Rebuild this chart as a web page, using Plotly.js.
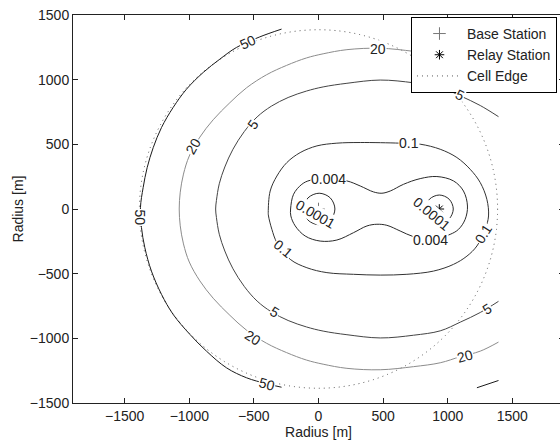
<!DOCTYPE html>
<html>
<head>
<meta charset="utf-8">
<script src="https://cdn.plot.ly/plotly-3.0.1.min.js"></script>
<style>
html, body { margin:0; padding:0; overflow:hidden; background:#fff; }
#chart { width:566px; height:442px; }
</style>
</head>
<body>
<div id="chart"></div>
<script>
// ---- data (metres) ----
const xTicks = [-1500, -1000, -500, 0, 500, 1000, 1500];
const yTicks = [-1500, -1000, -500, 0, 500, 1000, 1500];

const baseX = [0];
const baseY = [0];
const relayX = [935];
const relayY = [0];
const cellRadius = [1386];

// contour level 50 (left arc)
const c50x = [-286,-454,-635,-763,-892,-1022,-1125,-1215,-1279,-1326,-1357,-1378,-1370,-1344,-1293,-1215,-1125,-995,-867,-712,-557,-402,-286];
const c50y = [1391,1331,1249,1159,1056,926,785,630,475,320,166,11,-144,-299,-480,-660,-815,-970,-1099,-1228,-1305,-1351,-1378];
// contour level 50 (right corner pieces)
const c50rx = [1226, 1393, null, 1226, 1393];
const c50ry = [-1382, -1326, null, 1382, 1326];

// contour level 20
const c20x = [1393,1252,1097,942,735,478,220,36,-93,-248,-402,-557,-686,-815,-918,-1000,-1045,-1070,-1078,-1070,-1045,-1000,-918,-815,-686,-557,-402,-248,-93,36,220,478,735,942,1097,1252,1393];
const c20y = [1029,1099,1142,1189,1219,1243,1232,1200,1168,1110,1038,937,822,690,556,410,270,130,0,-130,-270,-410,-556,-690,-822,-937,-1038,-1110,-1168,-1200,-1232,-1243,-1219,-1189,-1142,-1099,-1029];

// contour level 5
const c5x = [1393,1252,1097,942,735,478,220,36,-93,-235,-365,-475,-575,-662,-725,-768,-790,-796,-790,-768,-725,-662,-575,-475,-365,-235,-93,36,220,478,735,942,1097,1252,1393];
const c5y = [714,800,875,942,976,997,972,944,912,862,795,712,598,462,325,195,65,0,-65,-195,-325,-462,-598,-712,-795,-862,-912,-944,-972,-997,-976,-942,-875,-800,-714];

// contour level 0.1
const c01x = [632,787,942,1071,1174,1252,1303,1316,1290,1226,1149,1045,890,684,478,271,65,-90,-219,-322,-361,-387,-389,-374,-322,-245,-142,-12,142,323,632];
const c01y = [509,501,462,398,307,204,75,-54,-157,-286,-364,-428,-480,-505,-511,-505,-492,-454,-389,-260,-157,-54,-25,139,255,359,436,488,509,514,509];

// contour level 0.004
const c004x = [78,220,323,426,491,555,658,787,916,1045,1122,1153,1135,1084,1019,865,735,632,529,452,375,271,142,13,-103,-180,-214,-216,-193,-129,-64,78];
const c004y = [230,217,178,132,122,139,191,235,251,217,139,23,-80,-157,-196,-240,-214,-170,-126,-118,-131,-183,-240,-248,-209,-131,-54,0,114,191,222,230];

// contour level 0.0001 (around base station and around relay station)
const c0001ax = [-81,5,91,127,91,5,-81,-117,-81];
const c0001ay = [-86,-122,-86,0,86,122,86,0,-86];
const c0001bx = [859,935,1011,1043,1011,935,859,827,859];
const c0001by = [-76,-108,-76,0,76,108,76,0,-76];

// inline contour labels
const labelText  = ['50','20','5','50','0.1','5','20','50','20','5','0.1','0.004','0.004','0.0001','0.0001','0.1','5','20'];
const labelX     = [-543,-970,-505,-1380,-271,-337,-505,-402,464,1097,699,77,870,-26,877,1277,1303,1135];
const labelY     = [1288,488,656,-67,-312,-794,-995,-1351,1241,880,508,235,-240,-41,-41,-196,-771,-1138];
const labelAngle = [-25,-60,-55,90,40,31,32,15,0,26,0,0,0,30,40,-58,-31,-16];

// ---- build chart ----
const FONT = 'Liberation Sans, Arial, Helvetica, sans-serif';
function contourTrace(x, y, color) {
  return {x: x, y: y, type: 'scatter', mode: 'lines', showlegend: false, hoverinfo: 'skip',
          line: {color: color, width: 1, shape: 'spline', smoothing: 1}};
}

const traces = [
  contourTrace(c50x, c50y, '#1a1a1a'),
  {x: c50rx, y: c50ry, type: 'scatter', mode: 'lines', showlegend: false, hoverinfo: 'skip',
   line: {color: '#1a1a1a', width: 1}},
  contourTrace(c20x, c20y, '#8c8c8c'),
  contourTrace(c5x, c5y, '#444444'),
  contourTrace(c01x, c01y, '#333333'),
  contourTrace(c004x, c004y, '#2a2a2a'),
  contourTrace(c0001ax, c0001ay, '#2a2a2a'),
  contourTrace(c0001bx, c0001by, '#2a2a2a'),
  {x: baseX, y: baseY, type: 'scatter', mode: 'markers', name: 'Base Station',
   marker: {symbol: 'cross-thin', size: 9, color: '#777', line: {color: '#777', width: 1}}},
  {x: relayX, y: relayY, type: 'scatter', mode: 'markers', name: 'Relay Station',
   marker: {symbol: 'asterisk', size: 8, color: '#000', line: {color: '#000', width: 1}}},
  {x: [null], y: [null], type: 'scatter', mode: 'lines', name: 'Cell Edge',
   line: {color: '#555', width: 1, dash: '1px,4px'}}
];

const annotations = labelText.map((t, i) => ({
  x: labelX[i], y: labelY[i], xref: 'x', yref: 'y', text: t, showarrow: false,
  textangle: labelAngle[i], bgcolor: '#ffffff', borderpad: 0,
  font: {family: FONT, size: 14, color: '#222'}
}));

const axisCommon = {
  ticks: 'inside', ticklen: 5, tickwidth: 1, tickcolor: '#222',
  showline: true, linecolor: '#222', linewidth: 1, mirror: 'ticks',
  showgrid: false, zeroline: false, automargin: false,
  tickfont: {family: FONT, size: 14, color: '#222'}
};

const layout = {
  width: 566, height: 442,
  margin: {l: 73, r: 2, t: 15, b: 39, pad: 0},
  paper_bgcolor: '#fff', plot_bgcolor: '#fff',
  font: {family: FONT, size: 14, color: '#222'},
  xaxis: Object.assign({}, axisCommon, {range: [-1900, 1900], tickvals: xTicks, automargin: true,
    title: {text: 'Radius [m]', font: {family: FONT, size: 14, color: '#222'}, standoff: 1}}),
  yaxis: Object.assign({}, axisCommon, {range: [-1500, 1500], tickvals: yTicks,
    title: {text: 'Radius [m]', font: {family: FONT, size: 14, color: '#222'}, standoff: 2}}),
  legend: {x: 0.9857, xanchor: 'right', y: 0.995, yanchor: 'top',
    bordercolor: '#000', borderwidth: 1, bgcolor: '#fff', itemwidth: 45,
    font: {family: FONT, size: 14, color: '#222'}, tracegroupgap: 0},
  shapes: [{type: 'circle', xref: 'x', yref: 'y', layer: 'below',
    x0: -cellRadius[0], x1: cellRadius[0], y0: -cellRadius[0], y1: cellRadius[0],
    line: {color: '#555', width: 1, dash: '1px,4px'}}],
  annotations: annotations,
  showlegend: true
};

Plotly.newPlot('chart', traces, layout, {displayModeBar: false, staticPlot: true});
</script>
</body>
</html>
